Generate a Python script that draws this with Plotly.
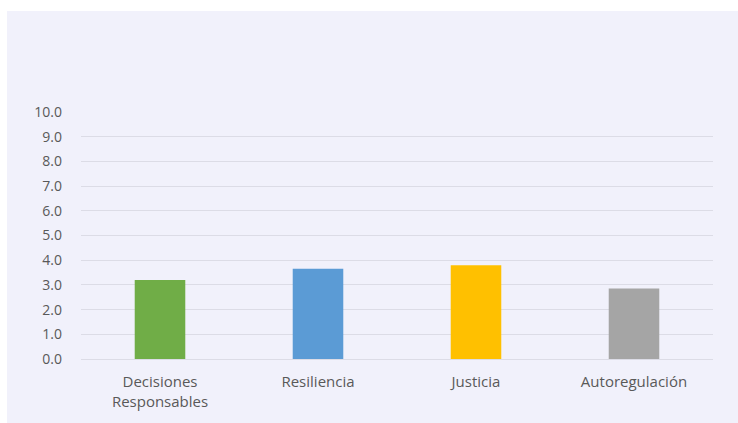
import plotly.graph_objects as go

categories = ["Decisiones<br>Responsables", "Resiliencia", "Justicia", "Autoregulación"]
values = [3.2, 3.65, 3.8, 2.85]
colors = ["#70ad47", "#5b9bd5", "#ffc000", "#a5a5a5"]
y_ticks = [0, 1, 2, 3, 4, 5, 6, 7, 8, 9, 10]

L, R, T, B = 81, 25, 112, 46

fig = go.Figure()
fig.add_trace(go.Bar(x=categories, y=values, marker=dict(color=colors, line=dict(width=0)),
                     hoverinfo="x+y"))

# lavender panel: starts 7px from the left edge and 11px from the top of the page
fig.add_shape(type="rect", xref="paper", yref="paper",
              xsizemode="pixel", xanchor=0, x0=-(L - 7), x1=900,
              ysizemode="pixel", yanchor=1, y0=-600, y1=T - 11,
              fillcolor="#f1f1fb", line=dict(width=0), layer="below")

fig.update_layout(
    autosize=True,
    margin=dict(l=L, r=R, t=T, b=B),
    paper_bgcolor="white",
    plot_bgcolor="rgba(0,0,0,0)",
    bargap=0.68,
    showlegend=False,
    font=dict(family="Open Sans, Lato, sans-serif", size=14, color="#595959"),
    xaxis=dict(showgrid=False, showline=False, ticks="", ticklabelstandoff=12,
               tickfont=dict(size=15, color="#595959")),
    yaxis=dict(range=[0, 10], tickvals=y_ticks, tickformat=".1f", showgrid=True,
               gridcolor="#dcdce6", gridwidth=1, zeroline=True, zerolinecolor="#dcdce6",
               zerolinewidth=1, showline=False, ticks="", ticklabelstandoff=18,
               tickfont=dict(size=14, color="#595959")),
)

post = (
    "document.documentElement.style.margin='0';"
    "document.documentElement.style.overflow='hidden';"
    "document.body.style.margin='0';document.body.style.overflow='hidden';"
    "var d=document.getElementById('{plot_id}');"
    "d.style.position='fixed';d.style.top='0px';d.style.left='0px';"
    "d.style.width='100vw';d.style.height='100vh';"
    "Plotly.Plots.resize(d);"
)
fig.write_html("out.html", config={"displayModeBar": False, "responsive": True},
               default_width="100vw", default_height="100vh", post_script=post)
